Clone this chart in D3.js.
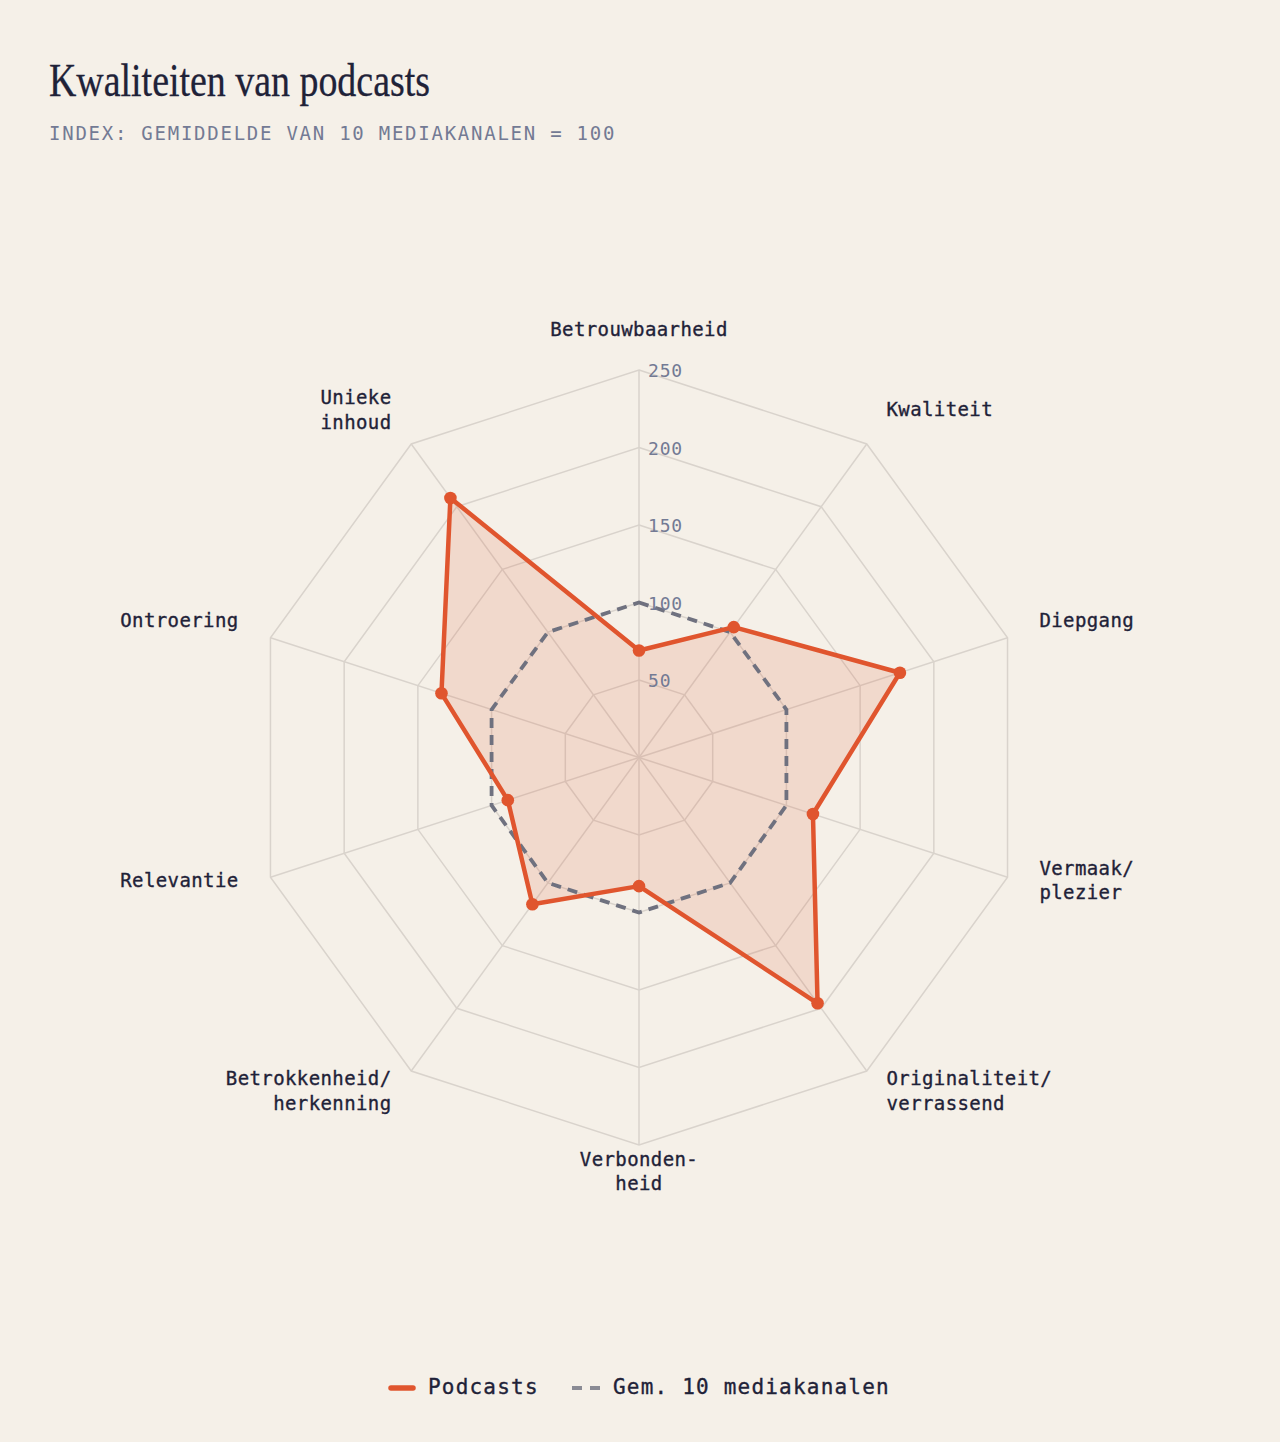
<!DOCTYPE html>
<html lang="nl">
  <head>
    <meta charset="UTF-8" />
    <title>Kwaliteiten van podcasts</title>
    <script src="https://d3js.org/d3.v7.min.js"></script>
    <style>
      body {
        margin: 0;
        background-color: #f5f0e8;
      }
      #chart svg {
        display: block;
      }
    </style>
  </head>
  <body>
    <div id="chart"></div>

    <script>
      // axis labels, clockwise from the top (lines split for wrapping)
      const categories = [
        ["Betrouwbaarheid"],
        ["Kwaliteit"],
        ["Diepgang"],
        ["Vermaak/", "plezier"],
        ["Originaliteit/", "verrassend"],
        ["Verbonden-", "heid"],
        ["Betrokkenheid/", "herkenning"],
        ["Relevantie"],
        ["Ontroering"],
        ["Unieke", "inhoud"],
      ];
      const podcasts = [69, 104, 177, 118, 196, 83, 117, 89, 134, 207];
      const average = [100, 100, 100, 100, 100, 100, 100, 100, 100, 100];
      const ticks = [50, 100, 150, 200, 250];

      const width = 1280;
      const height = 1442;
      const cx = 639;
      const cy = 757.5;
      const maxR = 387.5;

      const orange = "#e0552e";
      const grey = "#6f717f";
      const ink = "#1f2238";

      const svg = d3
        .select("#chart")
        .append("svg")
        .attr("width", width)
        .attr("height", height)
        .style("background", "#f5f0e8");

      // title + subtitle
      svg
        .append("text")
        .attr("x", 49)
        .attr("y", 96)
        .attr("textLength", 381)
        .attr("lengthAdjust", "spacingAndGlyphs")
        .style("font-family", "'Liberation Serif', 'DejaVu Serif', serif")
        .style("font-size", "47px")
        .style("fill", ink)
        .style("stroke", ink)
        .style("stroke-width", 0.3)
        .text("Kwaliteiten van podcasts");

      svg
        .append("text")
        .attr("x", 49)
        .attr("y", 140)
        .style("font-family", "'DejaVu Sans Mono', monospace")
        .style("font-size", "19px")
        .style("letter-spacing", "1.75px")
        .style("fill", "#737a94")
        .text("INDEX: GEMIDDELDE VAN 10 MEDIAKANALEN = 100");

      const r = d3.scaleLinear().domain([0, 250]).range([0, maxR]);
      const angle = d3
        .scaleLinear()
        .domain([0, categories.length])
        .range([0, 2 * Math.PI]);

      const g = svg.append("g").attr("transform", `translate(${cx},${cy})`);

      const radial = d3
        .lineRadial()
        .angle((d, i) => angle(i))
        .radius((d) => r(d))
        .curve(d3.curveLinearClosed);

      // grid decagons
      g.selectAll(".ring")
        .data(ticks)
        .join("path")
        .attr("class", "ring")
        .attr("d", (t) => radial(categories.map(() => t)))
        .attr("fill", "none")
        .attr("stroke", "#d9d3cc")
        .attr("stroke-width", 1.5);

      // spokes
      g.selectAll(".spoke")
        .data(categories)
        .join("line")
        .attr("class", "spoke")
        .attr("x1", 0)
        .attr("y1", 0)
        .attr("x2", (d, i) => r(250) * Math.sin(angle(i)))
        .attr("y2", (d, i) => -r(250) * Math.cos(angle(i)))
        .attr("stroke", "#d9d3cc")
        .attr("stroke-width", 1.5);

      // podcasts area
      g.append("path")
        .attr("d", radial(podcasts))
        .attr("fill", orange)
        .attr("fill-opacity", 0.15)
        .attr("stroke", "none");

      // average (dashed)
      g.append("path")
        .attr("d", radial(average))
        .attr("fill", "none")
        .attr("stroke", grey)
        .attr("stroke-width", 3.8)
        .attr("stroke-dasharray", "10,7");

      // podcasts line
      g.append("path")
        .attr("d", radial(podcasts))
        .attr("fill", "none")
        .attr("stroke", orange)
        .attr("stroke-width", 4.5)
        .attr("stroke-linejoin", "round");

      g.selectAll(".dot")
        .data(podcasts)
        .join("circle")
        .attr("class", "dot")
        .attr("cx", (d, i) => r(d) * Math.sin(angle(i)))
        .attr("cy", (d, i) => -r(d) * Math.cos(angle(i)))
        .attr("r", 6.3)
        .attr("fill", orange);

      // tick labels along the top spoke
      g.selectAll(".tick")
        .data(ticks)
        .join("text")
        .attr("class", "tick")
        .attr("x", 9)
        .attr("y", (t) => -r(t) + 2)
        .attr("dominant-baseline", "middle")
        .style("font-family", "'DejaVu Sans Mono', monospace")
        .style("font-size", "18px")
        .style("letter-spacing", "0.8px")
        .style("fill", "#737a94")
        .text((t) => t);

      // axis labels
      const labelR = maxR + 33.5;
      const lineH = 24.5;
      g.selectAll(".label")
        .data(categories)
        .join("text")
        .attr("class", "label")
        .attr("text-anchor", (d, i) => {
          const s = Math.sin(angle(i));
          return Math.abs(s) < 0.1 ? "middle" : s > 0 ? "start" : "end";
        })
        .style("font-family", "'DejaVu Sans Mono', monospace")
        .style("font-size", "19px")
        .style("letter-spacing", "0.4px")
        .style("fill", ink)
        .style("stroke", ink)
        .style("stroke-width", 0.35)
        .each(function (d, i) {
          const x = labelR * Math.sin(angle(i));
          const y = -labelR * Math.cos(angle(i)) - 6;
          const top = y - ((d.length - 1) * lineH) / 2;
          d3.select(this)
            .selectAll("tspan")
            .data(d)
            .join("tspan")
            .attr("x", x)
            .attr("y", (line, j) => top + j * lineH)
            .attr("dominant-baseline", "middle")
            .text((line) => line);
        });

      // legend
      const legend = svg.append("g").attr("transform", "translate(0,1388)");
      legend
        .append("line")
        .attr("x1", 391)
        .attr("x2", 413)
        .attr("stroke", orange)
        .attr("stroke-width", 5.5)
        .attr("stroke-linecap", "round");
      legend
        .append("text")
        .attr("x", 428)
        .attr("dominant-baseline", "middle")
        .style("font-family", "'DejaVu Sans Mono', monospace")
        .style("font-size", "21px")
        .style("letter-spacing", "1.2px")
        .style("fill", ink)
        .style("stroke", ink)
        .style("stroke-width", 0.35)
        .text("Podcasts");
      legend
        .append("line")
        .attr("x1", 572)
        .attr("x2", 600)
        .attr("stroke", "#8a8b94")
        .attr("stroke-width", 4)
        .attr("stroke-dasharray", "10,8");
      legend
        .append("text")
        .attr("x", 613)
        .attr("dominant-baseline", "middle")
        .style("font-family", "'DejaVu Sans Mono', monospace")
        .style("font-size", "21px")
        .style("letter-spacing", "1.2px")
        .style("fill", ink)
        .style("stroke", ink)
        .style("stroke-width", 0.35)
        .text("Gem. 10 mediakanalen");
    </script>
  </body>
</html>
